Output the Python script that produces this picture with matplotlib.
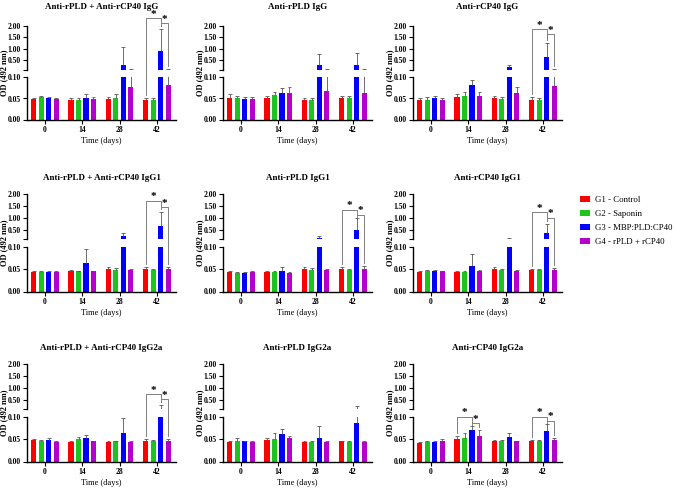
import matplotlib
matplotlib.use("Agg")
import matplotlib.pyplot as plt
from matplotlib.patches import Patch
from matplotlib.lines import Line2D
from matplotlib.transforms import blended_transform_factory
import numpy as np

plt.rcParams["font.family"] = ["Liberation Serif", "DejaVu Serif"]
plt.rcParams["font.weight"] = "bold"

days = ["0", "14", "28", "42"]
groups = ["G1 - Control", "G2 - Saponin", "G3 - MBP:PLD:CP40", "G4 - rPLD + rCP40"]
colors = ["#ff0000", "#1cc41c", "#0000ff", "#b400c8"]
titles = [
    "Anti-rPLD + Anti-rCP40 IgG", "Anti-rPLD IgG", "Anti-rCP40 IgG",
    "Anti-rPLD + Anti-rCP40 IgG1", "Anti-rPLD IgG1", "Anti-rCP40 IgG1",
    "Anti-rPLD + Anti-rCP40 IgG2a", "Anti-rPLD IgG2a", "Anti-rCP40 IgG2a",
]

# OD means, rows = G1..G4, columns = days 0/14/28/42
mean_both_igg = [[0.049, 0.046, 0.049, 0.046], [0.054, 0.047, 0.052, 0.046],
                 [0.051, 0.052, 0.28, 0.91], [0.048, 0.049, 0.077, 0.081]]
sd_both_igg = [[0.003, 0.006, 0.004, 0.005], [0.003, 0.003, 0.008, 0.005],
               [0.002, 0.008, 0.80, 0.98], [0.002, 0.005, 0.040, 0.040]]
mean_pld_igg = [[0.051, 0.050, 0.047, 0.050], [0.051, 0.058, 0.047, 0.050],
                [0.049, 0.062, 0.28, 0.28], [0.049, 0.064, 0.068, 0.064]]
sd_pld_igg = [[0.010, 0.005, 0.005, 0.005], [0.006, 0.008, 0.005, 0.005],
              [0.004, 0.013, 0.50, 0.52], [0.004, 0.013, 0.045, 0.045]]
mean_cp40_igg = [[0.047, 0.053, 0.050, 0.047], [0.047, 0.055, 0.048, 0.047],
                 [0.050, 0.082, 0.20, 0.64], [0.047, 0.057, 0.064, 0.080]]
sd_cp40_igg = [[0.005, 0.008, 0.007, 0.007], [0.007, 0.010, 0.006, 0.005],
               [0.006, 0.011, 0.08, 0.62], [0.005, 0.009, 0.013, 0.030]]
mean_both_igg1 = [[0.044, 0.046, 0.050, 0.050], [0.044, 0.045, 0.048, 0.048],
                  [0.043, 0.063, 0.24, 0.66], [0.043, 0.045, 0.048, 0.050]]
sd_both_igg1 = [[0.003, 0.003, 0.005, 0.005], [0.002, 0.002, 0.005, 0.002],
                [0.002, 0.032, 0.11, 0.60], [0.002, 0.002, 0.002, 0.005]]
mean_pld_igg1 = [[0.043, 0.043, 0.050, 0.051], [0.042, 0.043, 0.049, 0.049],
                 [0.042, 0.047, 0.16, 0.49], [0.043, 0.042, 0.048, 0.051]]
sd_pld_igg1 = [[0.002, 0.002, 0.005, 0.003], [0.002, 0.002, 0.003, 0.002],
               [0.002, 0.008, 0.08, 0.49], [0.002, 0.001, 0.003, 0.006]]
mean_cp40_igg1 = [[0.044, 0.044, 0.050, 0.049], [0.046, 0.043, 0.048, 0.048],
                  [0.046, 0.057, 0.105, 0.37], [0.045, 0.045, 0.047, 0.048]]
sd_cp40_igg1 = [[0.002, 0.002, 0.004, 0.002], [0.002, 0.002, 0.003, 0.003],
                [0.002, 0.027, 0.030, 0.35], [0.002, 0.003, 0.002, 0.005]]
mean_both_igg2a = [[0.048, 0.044, 0.044, 0.046], [0.046, 0.050, 0.045, 0.046],
                   [0.048, 0.053, 0.065, 0.105], [0.044, 0.045, 0.044, 0.047]]
sd_both_igg2a = [[0.002, 0.002, 0.002, 0.004], [0.002, 0.005, 0.002, 0.002],
                 [0.004, 0.006, 0.033, 0.18], [0.003, 0.002, 0.002, 0.003]]
mean_pld_igg2a = [[0.044, 0.048, 0.044, 0.045], [0.047, 0.051, 0.043, 0.044],
                  [0.045, 0.061, 0.053, 0.087], [0.043, 0.053, 0.043, 0.043]]
sd_pld_igg2a = [[0.002, 0.004, 0.002, 0.002], [0.005, 0.012, 0.002, 0.002],
                [0.002, 0.011, 0.026, 0.15], [0.002, 0.004, 0.002, 0.002]]
mean_cp40_igg2a = [[0.042, 0.050, 0.046, 0.047], [0.043, 0.053, 0.046, 0.047],
                   [0.043, 0.070, 0.054, 0.069], [0.047, 0.058, 0.045, 0.048]]
sd_cp40_igg2a = [[0.002, 0.008, 0.002, 0.002], [0.003, 0.011, 0.002, 0.002],
                 [0.002, 0.009, 0.011, 0.016], [0.004, 0.012, 0.002, 0.004]]

means = [mean_both_igg, mean_pld_igg, mean_cp40_igg,
         mean_both_igg1, mean_pld_igg1, mean_cp40_igg1,
         mean_both_igg2a, mean_pld_igg2a, mean_cp40_igg2a]
sds = [sd_both_igg, sd_pld_igg, sd_cp40_igg,
       sd_both_igg1, sd_pld_igg1, sd_cp40_igg1,
       sd_both_igg2a, sd_pld_igg2a, sd_cp40_igg2a]

# significance brackets: (day index, group a, group b, bracket height in OD)
brackets = {
    0: [(3, 0, 2, 2.34), (3, 2, 3, 2.12)],
    2: [(3, 0, 2, 1.85), (3, 2, 3, 1.65)],
    3: [(3, 0, 2, 1.72), (3, 2, 3, 1.44)],
    4: [(3, 0, 2, 1.34), (3, 2, 3, 1.12)],
    5: [(3, 0, 2, 1.23), (3, 2, 3, 0.99)],
    6: [(3, 0, 2, 0.73), (3, 2, 3, 0.51)],
    8: [(1, 0, 2, 0.100), (1, 2, 3, 0.086), (3, 0, 2, 0.100), (3, 2, 3, 0.092)],
}

W, H = 676, 488
fig = plt.figure(figsize=(W / 100, H / 100), dpi=100)

col_x = [27, 223, 413]
ax_w = 149
row_zero = [119.5, 291.5, 461.5]
row_low_top = [77.5, 247, 417]
row_up_bot = [69.5, 239, 409]
row_up_top = [26, 194, 364]
title_y = [7, 178, 348]
offsets = [-0.3, -0.1, 0.1, 0.3]
x = np.arange(len(days))

for i in range(9):
    r, c = divmod(i, 3)
    m = np.array(means[i])
    s = np.array(sds[i])
    ax_lo = fig.add_axes([col_x[c] / W, 1 - row_zero[r] / H, ax_w / W,
                          (row_zero[r] - row_low_top[r]) / H])
    ax_up = fig.add_axes([col_x[c] / W, 1 - row_up_bot[r] / H, ax_w / W,
                          (row_up_bot[r] - row_up_top[r]) / H])
    for g in range(4):
        xs = x + offsets[g]
        for ax in (ax_lo, ax_up):
            ax.bar(xs, m[g], width=0.14, color=colors[g], zorder=2)
            ax.vlines(xs, m[g], m[g] + s[g], color="#555555", lw=0.6, zorder=3)
            ax.hlines(m[g] + s[g], xs - 0.05, xs + 0.05, color="#555555", lw=0.6, zorder=3)

    for ax in (ax_lo, ax_up):
        ax.patch.set_visible(False)
        ax.set_xlim(-0.48, 3.51)
        ax.spines[["top", "right"]].set_visible(False)
        ax.spines["left"].set_linewidth(1.0)
        ax.tick_params(labelsize=5.5, length=3, width=0.8, pad=1.5)
    ax_lo.spines["bottom"].set_linewidth(1.0)
    ax_lo.set_ylim(0, 0.1)
    ax_lo.set_yticks([0, 0.05, 0.1], ["0.00", "0.05", "0.10"])
    ax_lo.set_xticks(x, days)
    ax_lo.set_xlabel("Time (days)", fontsize=6, labelpad=2)

    ax_up.spines["bottom"].set_visible(False)
    ax_up.set_ylim(0.1, 2.0)
    ax_up.set_yticks([0.5, 1.0, 1.5, 2.0], ["0.50", "1.00", "1.50", "2.00"])
    ax_up.set_yticks([0.1], minor=True)
    ax_up.tick_params(axis="y", which="minor", length=3, width=0.8)
    ax_up.set_xticks([])

    cx = (col_x[c] + ax_w / 2) / W
    fig.text(cx, 1 - title_y[r] / H, titles[i], ha="center", va="center", fontsize=6.5)
    fig.text((col_x[c] - 23) / W, 1 - (row_up_top[r] + row_zero[r]) / 2 / H, "OD (492 nm)",
             rotation=90, ha="center", va="center", fontsize=6)

    def yfig(v):
        ax = ax_lo if v <= 0.1 else ax_up
        return fig.transFigure.inverted().transform(ax.transData.transform((0, v)))[1]

    trans = blended_transform_factory(ax_lo.transData, fig.transFigure)
    for d, a, b, h in brackets.get(i, []):
        xa, xb = d + offsets[a], d + offsets[b]
        yb = yfig(h)
        ya = min(yfig(m[a][d] + s[a][d]) + 3 / H, yb - 2 / H)
        yc = min(yfig(m[b][d] + s[b][d]) + 3 / H, yb - 2 / H)
        fig.add_artist(Line2D([xa, xa, xb, xb], [ya, yb, yb, yc], transform=trans,
                              color="#808080", lw=0.7))
        fig.text((xa + xb) / 2, yb + 4 / H, "*", transform=trans, ha="center",
                 va="center", fontsize=8)

handles = [Patch(facecolor=col) for col in colors]
fig.legend(handles, groups, loc="upper left", bbox_to_anchor=(580 / W, 1 - 196 / H),
           frameon=False, prop={"size": 6.3, "weight": "normal"}, handlelength=1.15,
           handleheight=0.75, handletextpad=0.55, labelspacing=0.65, borderpad=0,
           borderaxespad=0)

fig.savefig("out.png", dpi=100)
